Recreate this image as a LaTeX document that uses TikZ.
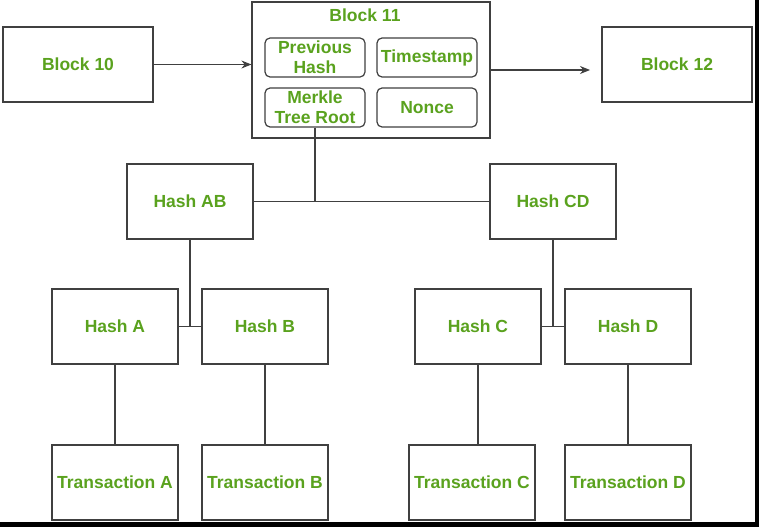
\documentclass[tikz,border=0pt]{standalone}
\usepackage{fontspec}
\setmainfont{Liberation Sans}
\usetikzlibrary{arrows.meta}
\definecolor{txtgreen}{HTML}{5AA21E}
\definecolor{linegray}{HTML}{404040}
\begin{document}
\begin{tikzpicture}[x=1pt,y=-1pt,
  box/.style={draw=linegray,line width=1.2pt,fill=white,inner sep=0pt,minimum width=126pt,minimum height=75pt,
    text=txtgreen,font=\fontsize{17.5}{20}\selectfont\bfseries,align=center},
  inbox/.style={draw=linegray,line width=1.2pt,rounded corners=5pt,inner sep=0pt,minimum width=100pt,minimum height=39pt,
    text=txtgreen,font=\fontsize{17.5}{20}\selectfont\bfseries,align=center},
  conn/.style={draw=linegray,line width=1.2pt},
  arr/.style={conn,-{Stealth[length=10pt,width=8pt]}}]
\useasboundingbox (0,0) rectangle (759,527);
\fill[white] (0,0) rectangle (759,527);
% blocks
\node[box,minimum width=150pt] (b10) at (78,64.5) {Block 10};
\node[box,minimum width=238pt,minimum height=136pt] (b11) at (371,70) {};
\node[text=txtgreen,font=\fontsize{17.5}{20}\selectfont\bfseries] (b11t) at (365,15) {Block 11};
\node[inbox] (prev) at (315,57.5) {Previous\\Hash};
\node[inbox] (ts) at (427,57.5) {Timestamp};
\node[inbox] (mr) at (315,107.5) {Merkle\\Tree Root};
\node[inbox] (nonce) at (427,107.5) {Nonce};
\node[box,minimum width=150pt] (b12) at (677,64.5) {Block 12};
\coordinate (aend) at (590,70);
\draw[arr] (b10.east) -- (b10.east -| b11.west);
\draw[arr] (b11.east) -- (aend);
% hash tree
\node[box] (hab) at (190,201.5) {Hash AB};
\node[box] (hcd) at (553,201.5) {Hash CD};
\node[box] (ha) at (115,326.5) {Hash A};
\node[box] (hb) at (265,326.5) {Hash B};
\node[box] (hc) at (478,326.5) {Hash C};
\node[box] (hd) at (628,326.5) {Hash D};
\node[box] (ta) at (115,482.5) {Transaction A};
\node[box] (tb) at (265,482.5) {Transaction B};
\node[box] (tc) at (472,482.5) {Transaction C};
\node[box] (td) at (628,482.5) {Transaction D};
\draw[conn] (mr.south) -- (mr.south |- hab.east);
\draw[conn] (hab.east) -- (hcd.west);
\draw[conn] (hab.south) -- (hab.south |- ha.east);
\draw[conn] (ha.east) -- (hb.west);
\draw[conn] (hcd.south) -- (hcd.south |- hc.east);
\draw[conn] (hc.east) -- (hd.west);
\draw[conn] (ha.south) -- (ta.north);
\draw[conn] (hb.south) -- (tb.north);
\draw[conn] (hc.south) -- (hc.south |- tc.north);
\draw[conn] (hd.south) -- (td.north);
% screenshot edge
\fill[black] (755,0) rectangle (759,527);
\fill[black] (0,522) rectangle (759,527);
\end{tikzpicture}
\end{document}
